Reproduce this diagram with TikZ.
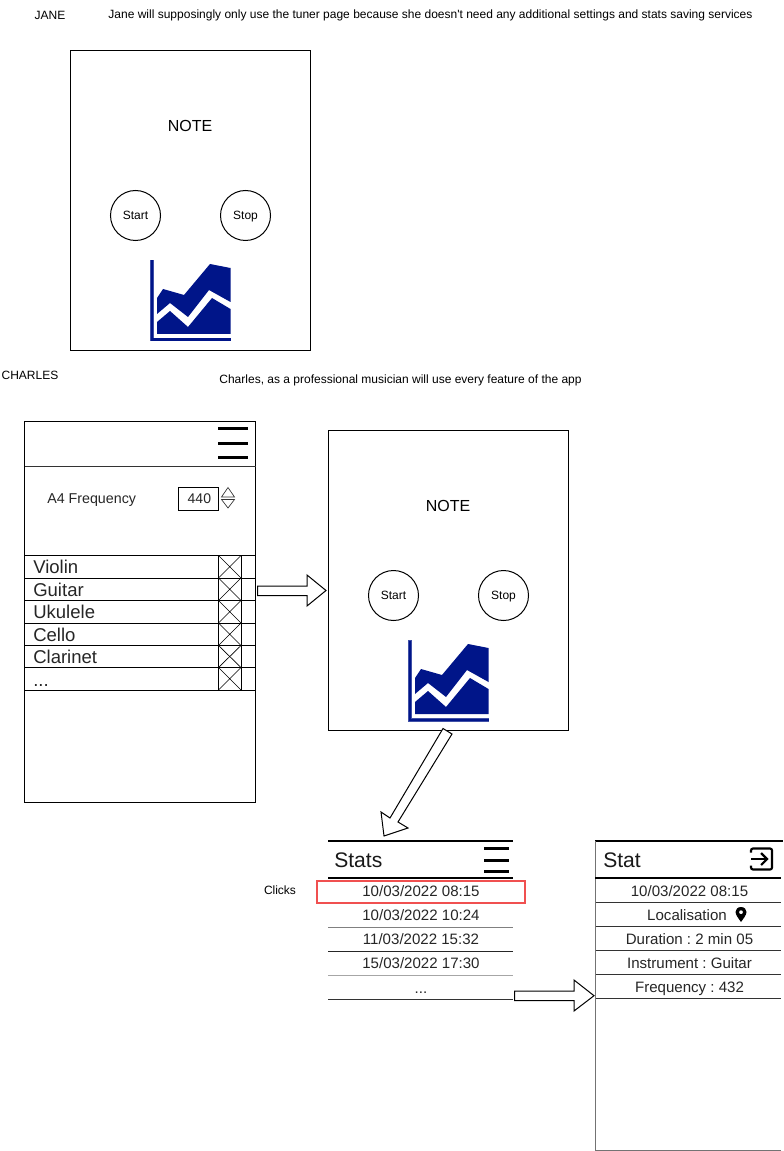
\documentclass[tikz,border=0pt]{standalone}
\usepackage{fontspec}
\setmainfont{Liberation Sans}[Ligatures=TeXOff]
\definecolor{chartblue}{RGB}{0,21,137}
\definecolor{clickred}{RGB}{240,80,80}
\newcommand{\ptxt}[1]{\fontsize{#1}{#1}\selectfont\frenchspacing}
\tikzset{
  label/.style={inner sep=0pt,font=\ptxt{9}},
  notetxt/.style={inner sep=0pt,text height=8.6pt,text depth=0pt,font=\ptxt{12}},
  rowtxt/.style={inner sep=0pt,anchor=west,text height=9.7pt,text depth=0pt,text=black!85,font=\ptxt{13.9}},
  datetxt/.style={inner sep=0pt,text height=7.8pt,text depth=0pt,text=black!85,font=\ptxt{11.3}},
  headtxt/.style={inner sep=0pt,anchor=west,text=black!90,font=\ptxt{15.8}},
  screen/.style={draw=black,line width=0.75pt},
  hair/.style={draw=black,line width=0.75pt},
  thick line/.style={draw=black,line width=1.5pt},
  bar/.style={draw=black,line width=2.25pt},
  blockarrow/.style={draw=black,fill=white,line width=0.75pt,line join=miter},
  round button/.style={draw=black,circle,line width=0.75pt,minimum size=37.5pt,inner sep=0pt,text height=6.4pt,text depth=0pt,font=\ptxt{9}}
}
\newcommand{\chartart}{%
  \fill[chartblue!75!white] (150,260) rectangle (153.5,341.5);
  \fill[chartblue!75!white] (150,338) rectangle (231,341.5);
  \fill[chartblue] (150.5,260.5) rectangle (153,341);
  \fill[chartblue] (150.5,338.5) rectangle (230.5,341);
  \fill[chartblue] (157,298) -- (163,289) -- (184,295) -- (210,264) -- (230.5,268) -- (230.5,302) -- (209,290) -- (188,317) -- (170,303) -- (157,314) -- cycle;
  \fill[chartblue] (157,322) -- (170,311) -- (188,327) -- (212,298) -- (230.5,309) -- (230.5,334) -- (157,334) -- cycle;
}
\newcommand{\tunerscreen}[1]{%
  \draw[screen] (70.5,50.5) rectangle (310.5,350.5);
  \node[notetxt] (#1note) at (190,125.5) {NOTE};
  \node[round button] (#1start) at (135.5,215.5) {Start};
  \node[round button] (#1stop) at (245.5,215.5) {Stop};
  \chartart
}
\begin{document}
\begin{tikzpicture}[x=0.75pt,y=-0.75pt]
\useasboundingbox[fill=white] (0,0) rectangle (783,1151);
% Jane
\node[label] (jane) at (50,15) {JANE};
\node[label] (janetext) at (430.5,15) {Jane will supposingly only use the tuner page because she doesn't need any additional settings and stats saving services};
\tunerscreen{a}
% Charles
\node[label] (charles) at (30,375) {CHARLES};
\node[label] (charlestext) at (400.5,380) {Charles, as a professional musician will use every feature of the app};
% settings screen
\draw[screen] (24.5,421) rectangle (255.5,802);
\draw[hair,black!80] (24.5,466) -- (255.5,466);
\foreach \yy in {428.5,443,457}{\draw[bar] (218,\yy) -- (248,\yy);}
\node[inner sep=0pt,anchor=west,text height=7.4pt,text depth=0pt,font=\ptxt{10.7},text=black!85] (afreq) at (47,499) {A4 Frequency};
\node[draw=black,line width=0.75pt,minimum width=30pt,minimum height=17pt,inner sep=0pt,font=\ptxt{10.5},text=black!85] (spin) at (198.7,499) {\hspace{1pt}440};
\draw[line width=0.5pt,black!80] (221.5,497) -- (228,487.5) -- (234.5,497) -- cycle;
\draw[line width=0.5pt,black!80] (221.5,499.5) -- (228,508) -- (234.5,499.5) -- cycle;
\foreach \yy in {555.5,578,600.5,623,645.5,667.5,690}{\draw[hair] (24.5,\yy) -- (255.5,\yy);}
\foreach \ya/\yb in {555.5/578,578/600.5,600.5/623,623/645.5,645.5/667.5,667.5/690}{
  \draw[hair] (218.5,\ya) rectangle (241,\yb);
  \draw[line width=0.5pt] (218.5,\ya) -- (241,\yb) (241,\ya) -- (218.5,\yb);
}
\node[rowtxt] (violin) at (33,567.5) {Violin};
\node[rowtxt] (guitar) at (33,590) {Guitar};
\node[rowtxt] (ukulele) at (33,612.5) {Ukulele};
\node[rowtxt] (cello) at (33,635) {Cello};
\node[rowtxt] (clarinet) at (33,657) {Clarinet};
\node[rowtxt] (more) at (33,680) {...};
% arrow 1
\draw[blockarrow] (257.5,586) -- (307,586) -- (307,575) -- (326,590.5) -- (307,606) -- (307,595.5) -- (257.5,595.5) -- cycle;
% tuner 2
\begin{scope}[shift={(258,380)}]
\tunerscreen{b}
\end{scope}
% arrow 2
\draw[blockarrow] (443,728.5) -- (452,734) -- (398,822) -- (408,828) -- (384,836) -- (381,812) -- (390,818) -- cycle;
% stats list
\draw[thick line] (328,841) -- (513,841);
\draw[thick line,line width=1pt] (328,878) -- (513,878);
\foreach \yy/\cc in {927.5/50,951.5/85,975.5/35,999.5/80}{\draw[hair,black!\cc] (328,\yy) -- (513,\yy);}
\node[headtxt] (stats) at (334,860.5) {Stats};
\foreach \yy in {848,860,871.5}{\draw[bar] (484,\yy) -- (509,\yy);}
\node[label] (clicks) at (280,890) {Clicks};
\draw[draw=clickred,line width=1.5pt] (316.5,881) rectangle (525,903);
\node[datetxt] (d1) at (421,891) {10/03/2022 08:15};
\node[datetxt] (d2) at (421,915.5) {10/03/2022 10:24};
\node[datetxt] (d3) at (421,939.5) {11/03/2022 15:32};
\node[datetxt] (d4) at (421,963.5) {15/03/2022 17:30};
\node[datetxt] (d5) at (421,988) {...};
% stat screen
\draw[thick line] (595,841) -- (783,841);
\draw[line width=0.75pt,black!55] (595.5,841) -- (595.5,1150) -- (781,1150);
\draw[thick line,line width=1pt] (595,878) -- (781,878);
\foreach \yy in {902.5,926.5,950.5,974.5,998.5}{\draw[hair,black!80] (595.5,\yy) -- (781,\yy);}
\node[headtxt] (stat) at (603,860.5) {Stat};
\draw[line width=1.6pt,rounded corners=1.5pt,line cap=butt] (751,852.5) -- (751,848.5) -- (772,848.5) -- (772,869.5) -- (751,869.5) -- (751,865.5);
\draw[line width=1.6pt] (751,859) -- (767,859);
\draw[line width=1.6pt] (761,853) -- (767,859) -- (761,865);
\node[datetxt] (s1) at (689.5,891) {10/03/2022 08:15};
\node[datetxt] (s2) at (687,915.5) {Localisation};
\fill[black,even odd rule] (741,907) .. controls (737.5,907) and (735.5,909.5) .. (735.5,912) .. controls (735.5,915) and (739,919) .. (741,922) .. controls (743,919) and (746.5,915) .. (746.5,912) .. controls (746.5,909.5) and (744.5,907) .. (741,907) -- cycle (743,912.2) arc (0:360:2);
\node[datetxt] (s3) at (689.5,939.5) {Duration : 2 min 05};
\node[datetxt] (s4) at (689.5,963.5) {Instrument : Guitar};
\node[datetxt] (s5) at (689.5,987) {Frequency : 432};
% arrow 3
\draw[blockarrow] (514.5,991) -- (574,991) -- (574,980) -- (594,995.7) -- (574,1011) -- (574,1000.5) -- (514.5,1000.5) -- cycle;
\end{tikzpicture}
\end{document}
